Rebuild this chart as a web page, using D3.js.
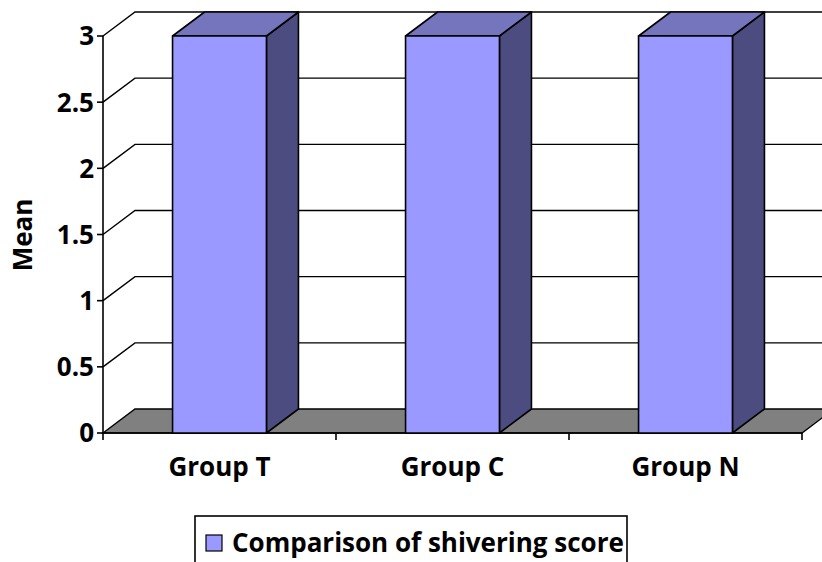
<!DOCTYPE html>
<html>
<head>
<meta charset="utf-8">
<script src="https://cdn.jsdelivr.net/npm/d3@7"></script>
<style>
  html, body { margin: 0; padding: 0; background: #fff; }
  svg { display: block; font-family: "Open Sans", "Noto Sans", sans-serif; font-weight: bold; }
</style>
</head>
<body>
<svg id="chart" width="822" height="562"></svg>
<script>
// Chart data
const categories = ["Group T", "Group C", "Group N"];
const values = [3, 3, 3];
const yTicks = [0, 0.5, 1, 1.5, 2, 2.5, 3];
const yTickLabels = ["0", "0.5", "1", "1.5", "2", "2.5", "3"];
const seriesName = "Comparison of shivering score";
const yTitle = "Mean";

const svg = d3.select("#chart");
const fontSize = 26;

// Plot geometry (front plane) and 3D depth offset
const plotLeft = 103, plotRight = 802, plotBottom = 433, plotTop = 36;
const depthX = 32, depthY = -24;

const y = d3.scaleLinear().domain([0, 3]).range([plotBottom, plotTop]);
const x = d3.scaleBand().domain(categories).range([plotLeft, plotRight])
  .paddingInner(0.597).paddingOuter(0.2985);

const colors = { front: "#9999FF", top: "#7575BD", side: "#4C4C80", floor: "#808080" };

// Back wall gridlines and side-wall diagonals
const grid = svg.append("g").attr("stroke", "#000").attr("stroke-width", 1.4).attr("fill", "none");
yTicks.slice(1).forEach(t => {
  const py = y(t);
  grid.append("path").attr("d",
    `M${plotLeft},${py} L${plotLeft + depthX},${py + depthY} L${plotRight + depthX + 40},${py + depthY}`);
});

// Floor
svg.append("path")
  .attr("d", `M${plotLeft},${plotBottom} L${plotLeft + depthX},${plotBottom + depthY} L${plotRight + depthX},${plotBottom + depthY} L${plotRight},${plotBottom} Z`)
  .attr("fill", colors.floor).attr("stroke", "#000").attr("stroke-width", 1.4);

// Y axis line and ticks
svg.append("line").attr("x1", plotLeft).attr("x2", plotLeft).attr("y1", y(3)).attr("y2", plotBottom)
  .attr("stroke", "#000").attr("stroke-width", 1.6);
const yAx = svg.append("g");
yTicks.forEach((t, i) => {
  yAx.append("line").attr("x1", plotLeft - 6).attr("x2", plotLeft).attr("y1", y(t)).attr("y2", y(t))
    .attr("stroke", "#000").attr("stroke-width", 1.6);
  yAx.append("text").attr("x", plotLeft - 9).attr("y", y(t)).attr("dy", "0.36em")
    .attr("text-anchor", "end").attr("font-size", fontSize).text(yTickLabels[i]);
});

// X axis line with category separators
svg.append("line").attr("x1", plotLeft).attr("x2", plotRight).attr("y1", plotBottom).attr("y2", plotBottom)
  .attr("stroke", "#000").attr("stroke-width", 1.6);
const step = x.step();
d3.range(categories.length + 1).forEach(i => {
  const px = plotLeft + i * step;
  svg.append("line").attr("x1", px).attr("x2", px).attr("y1", plotBottom).attr("y2", plotBottom + 7)
    .attr("stroke", "#000").attr("stroke-width", 1.6);
});

// 3D bars
const bars = svg.append("g").attr("stroke", "#000").attr("stroke-width", 1.6).attr("stroke-linejoin", "round");
categories.forEach((c, i) => {
  const x0 = x(c), x1 = x0 + x.bandwidth();
  const yt = y(values[i]), yb = y(0);
  bars.append("path").attr("fill", colors.side)
    .attr("d", `M${x1},${yb} L${x1 + depthX},${yb + depthY} L${x1 + depthX},${yt + depthY} L${x1},${yt} Z`);
  bars.append("path").attr("fill", colors.top)
    .attr("d", `M${x0},${yt} L${x0 + depthX},${yt + depthY} L${x1 + depthX},${yt + depthY} L${x1},${yt} Z`);
  bars.append("rect").attr("fill", colors.front)
    .attr("x", x0).attr("y", yt).attr("width", x1 - x0).attr("height", yb - yt);
});

// Category labels
categories.forEach(c => {
  svg.append("text").attr("x", x(c) + x.bandwidth() / 2).attr("y", 476)
    .attr("text-anchor", "middle").attr("font-size", fontSize).text(c);
});

// Y axis title
svg.append("text").attr("transform", `translate(32,235) rotate(-90)`)
  .attr("text-anchor", "middle").attr("font-size", fontSize).text(yTitle);

// Legend
const lg = svg.append("g");
lg.append("rect").attr("x", 195).attr("y", 516).attr("width", 432).attr("height", 60)
  .attr("fill", "#fff").attr("stroke", "#000").attr("stroke-width", 1.6);
lg.append("rect").attr("x", 206).attr("y", 535).attr("width", 16).attr("height", 16)
  .attr("fill", colors.front).attr("stroke", "#000").attr("stroke-width", 1.2);
lg.append("text").attr("x", 232).attr("y", 552).attr("font-size", fontSize).text(seriesName);
</script>
</body>
</html>
